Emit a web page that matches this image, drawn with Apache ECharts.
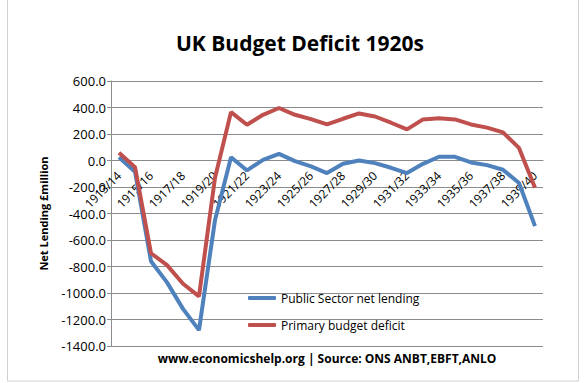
<!DOCTYPE html>
<html>
<head>
<meta charset="utf-8">
<script src="https://cdn.jsdelivr.net/npm/echarts@6/dist/echarts.min.js"></script>
<style>
  html, body { margin: 0; padding: 0; background: #ffffff; }
  #chart { width: 587px; height: 383px; }
</style>
</head>
<body>
<div id="chart"></div>
<script>
// Fiscal years, 1913/14 to 1939/40
const years = [
  '1913/14', '1914/15', '1915/16', '1916/17', '1917/18', '1918/19', '1919/20',
  '1920/21', '1921/22', '1922/23', '1923/24', '1924/25', '1925/26', '1926/27',
  '1927/28', '1928/29', '1929/30', '1930/31', '1931/32', '1932/33', '1933/34',
  '1934/35', '1935/36', '1936/37', '1937/38', '1938/39', '1939/40'
];

// Public sector net lending, £ million
const netLending = [
  25, -85, -760, -920, -1120, -1280, -450,
  25, -75, 5, 50, -5, -45, -95,
  -25, 0, -20, -55, -95, -25, 28,
  28, -15, -35, -70, -170, -495
];

// Primary budget deficit, £ million
const primaryDeficit = [
  58, -50, -700, -790, -930, -1025, -130,
  365, 270, 345, 396, 345, 312, 272,
  315, 355, 332, 285, 235, 310, 318,
  310, 272, 248, 212, 95, -205
];

// Value axis range and step
const yMin = -1400;
const yMax = 600;
const yStep = 200;

const seriesNames = ['Public Sector net lending', 'Primary budget deficit'];
const titleText = 'UK Budget Deficit 1920s';
const sourceText = 'www.economicshelp.org | Source: ONS ANBT,EBFT,ANLO';
const yAxisName = 'Net Lending £million';

const FONT = '"Open Sans", "Liberation Sans", sans-serif';
const BLUE = '#4F81BD';
const RED = '#C0504D';
const GRID = '#8c8c8c';

// Plot area box
const GRID_TOP = 81;
const GRID_BOTTOM = 37;
const CHART_H = 383;
const plotHeight = CHART_H - GRID_TOP - GRID_BOTTOM;
// Category axis sits on the zero line: shift it up from the bottom edge
const zeroOffset = -plotHeight * (0 - yMin) / (yMax - yMin);

const chart = echarts.init(document.getElementById('chart'), null, { renderer: 'svg' });

chart.setOption({
  animation: false,
  backgroundColor: '#ffffff',
  textStyle: { fontFamily: FONT },
  graphic: [
    {
      type: 'rect',
      silent: true,
      shape: { x: 7.5, y: -1, width: 571, height: 382 },
      style: { fill: 'none', stroke: '#d0d0d0', lineWidth: 1 }
    },
    {
      type: 'text',
      x: 300, y: 43,
      style: {
        text: titleText,
        font: 'bold 21px ' + FONT,
        fill: '#000000',
        textAlign: 'center',
        textVerticalAlign: 'middle'
      }
    },
    {
      type: 'text',
      x: 327, y: 358,
      style: {
        text: sourceText,
        font: 'bold 12px ' + FONT,
        fill: '#000000',
        textAlign: 'center',
        textVerticalAlign: 'middle'
      }
    }
  ],
  grid: {
    left: 111,
    right: 44,
    top: GRID_TOP,
    bottom: GRID_BOTTOM,
    containLabel: false,
    outerBoundsMode: 'none'
  },
  legend: {
    orient: 'vertical',
    left: 243,
    top: 285,
    itemWidth: 28,
    itemHeight: 4,
    itemGap: 11,
    icon: 'roundRect',
    data: seriesNames,
    textStyle: { fontFamily: FONT, fontSize: 12, color: '#000000', lineHeight: 16 }
  },
  xAxis: {
    type: 'category',
    data: years,
    boundaryGap: true,
    position: 'bottom',
    offset: zeroOffset,
    axisLine: { onZero: false, lineStyle: { color: GRID, width: 1 } },
    axisTick: { show: false },
    axisLabel: {
      interval: 1,
      rotate: 45,
      margin: 13,
      fontFamily: FONT,
      fontSize: 12,
      color: '#000000'
    },
    splitLine: { show: false }
  },
  yAxis: {
    type: 'value',
    min: yMin,
    max: yMax,
    interval: yStep,
    name: yAxisName,
    nameLocation: 'middle',
    nameGap: 62,
    nameRotate: 90,
    nameTextStyle: { fontFamily: FONT, fontSize: 11, fontWeight: 'bold', color: '#000000' },
    axisLine: { show: true, lineStyle: { color: GRID, width: 1 } },
    axisTick: { show: true, inside: false, length: 4, lineStyle: { color: GRID } },
    axisLabel: {
      margin: 5,
      fontFamily: FONT,
      fontSize: 13,
      color: '#000000',
      formatter: v => v.toFixed(1)
    },
    splitLine: { show: true, lineStyle: { color: GRID, width: 1 } }
  },
  series: [
    {
      name: seriesNames[0],
      type: 'line',
      data: netLending,
      symbol: 'none',
      smooth: false,
      color: BLUE,
      lineStyle: { color: BLUE, width: 4 },
      z: 3,
      emphasis: { disabled: true }
    },
    {
      name: seriesNames[1],
      type: 'line',
      data: primaryDeficit,
      symbol: 'none',
      smooth: false,
      color: RED,
      lineStyle: { color: RED, width: 4 },
      z: 4,
      emphasis: { disabled: true }
    }
  ]
});
</script>
</body>
</html>
